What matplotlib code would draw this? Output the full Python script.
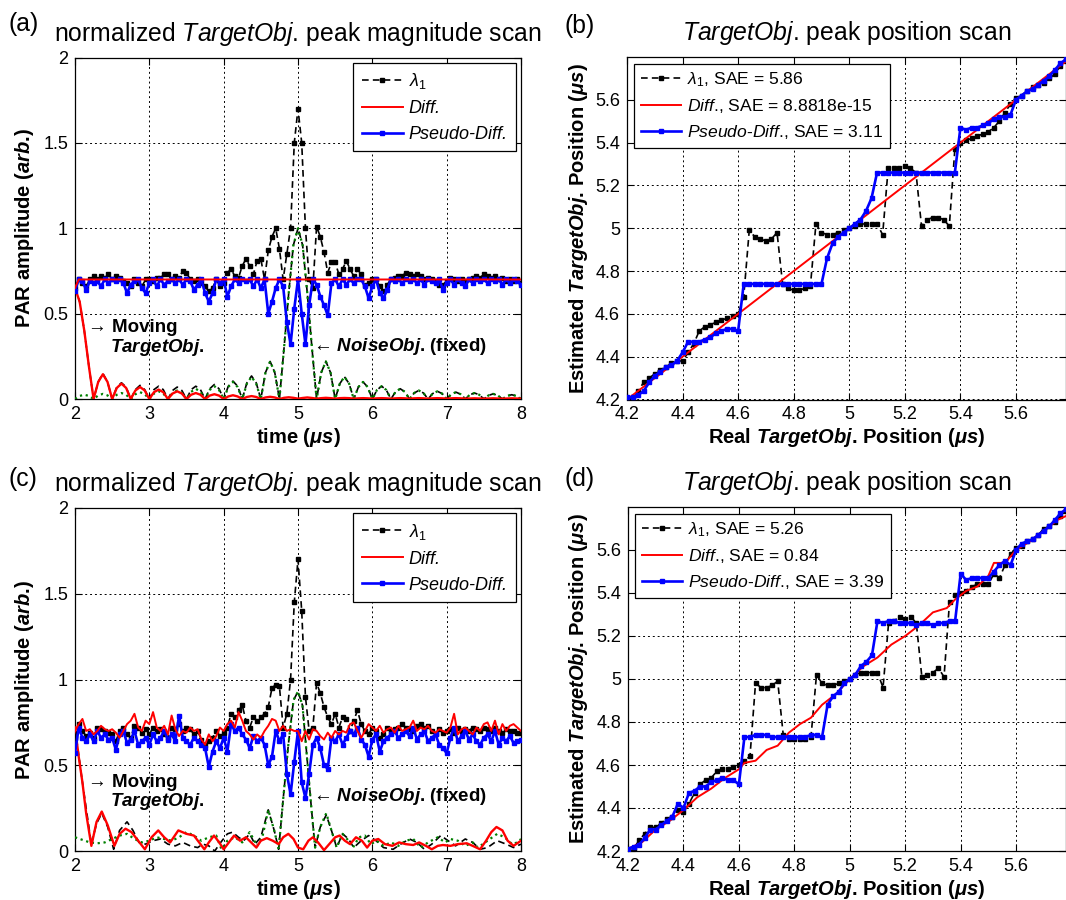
import numpy as np
import matplotlib
matplotlib.use('Agg')
import matplotlib.pyplot as plt

plt.rcParams['font.family'] = ['Liberation Sans', 'DejaVu Sans']
plt.rcParams['mathtext.fontset'] = 'custom'
plt.rcParams['mathtext.rm'] = 'Liberation Sans'
plt.rcParams['mathtext.it'] = 'Liberation Sans:italic'
plt.rcParams['mathtext.bf'] = 'Liberation Sans:bold'
plt.rcParams['mathtext.bfit'] = 'Liberation Sans:bold:italic'

# ---------------- data: magnitude scans (a), (c) ----------------
t_mag = np.linspace(2.0, 8.0, 121)      # 0.05 us steps
t_lobe = np.linspace(2.0, 8.0, 97)      # 0.0625 us steps

lam1_a = [
    0.65, 0.70, 0.68, 0.66, 0.70, 0.72, 0.70, 0.72, 0.71, 0.73,
    0.70, 0.72, 0.71, 0.69, 0.68, 0.66, 0.70, 0.68, 0.66, 0.70,
    0.70, 0.69, 0.71, 0.71, 0.73, 0.73, 0.70, 0.72, 0.71, 0.75,
    0.74, 0.70, 0.69, 0.70, 0.68, 0.66, 0.63, 0.65, 0.70, 0.66,
    0.68, 0.74, 0.76, 0.72, 0.71, 0.78, 0.82, 0.78, 0.73, 0.81,
    0.82, 0.70, 0.87, 0.95, 1.00, 0.88, 0.70, 0.85, 1.00, 1.50,
    1.70, 1.50, 1.00, 0.70, 0.65, 1.01, 0.95, 0.86, 0.74, 0.80,
    0.80, 0.73, 0.76, 0.81, 0.76, 0.72, 0.76, 0.73, 0.67, 0.68,
    0.70, 0.70, 0.66, 0.63, 0.67, 0.70, 0.71, 0.72, 0.72, 0.74,
    0.73, 0.72, 0.73, 0.72, 0.70, 0.71, 0.70, 0.69, 0.67, 0.67,
    0.69, 0.71, 0.70, 0.69, 0.70, 0.69, 0.70, 0.71, 0.72, 0.71,
    0.73, 0.72, 0.71, 0.72, 0.70, 0.71, 0.69, 0.70, 0.69, 0.70,
    0.68]

pseudo_a = [
    0.63, 0.70, 0.69, 0.64, 0.69, 0.68, 0.69, 0.66, 0.70, 0.68,
    0.70, 0.69, 0.70, 0.68, 0.62, 0.67, 0.69, 0.70, 0.65, 0.62,
    0.68, 0.70, 0.66, 0.70, 0.67, 0.69, 0.70, 0.68, 0.70, 0.67,
    0.70, 0.69, 0.64, 0.67, 0.70, 0.62, 0.57, 0.62, 0.70, 0.68,
    0.70, 0.60, 0.66, 0.70, 0.68, 0.70, 0.69, 0.70, 0.66, 0.70,
    0.65, 0.70, 0.50, 0.57, 0.65, 0.70, 0.66, 0.45, 0.32, 0.53,
    0.70, 0.50, 0.32, 0.55, 0.70, 0.67, 0.60, 0.55, 0.49, 0.68,
    0.70, 0.66, 0.70, 0.67, 0.70, 0.68, 0.70, 0.70, 0.66, 0.59,
    0.66, 0.70, 0.62, 0.59, 0.64, 0.70, 0.69, 0.70, 0.68, 0.70,
    0.69, 0.70, 0.68, 0.70, 0.67, 0.70, 0.69, 0.68, 0.70, 0.64,
    0.68, 0.70, 0.67, 0.70, 0.68, 0.66, 0.70, 0.68, 0.70, 0.69,
    0.70, 0.68, 0.70, 0.69, 0.70, 0.67, 0.70, 0.68, 0.70, 0.69,
    0.67]

diff_a_t = [2.0, 2.05, 8.0]
diff_a = [0.65, 0.70, 0.70]

moving_a = [
    0.65, 0.57, 0.40, 0.19,
    0.0, 0.10, 0.145, 0.10,
    0.0, 0.065, 0.09, 0.065,
    0.0, 0.05, 0.07, 0.05,
    0.0, 0.04, 0.055, 0.04,
    0.0, 0.032, 0.045, 0.032,
    0.0, 0.025, 0.035, 0.025,
    0.0, 0.02, 0.028, 0.02,
    0.0, 0.015, 0.022, 0.015,
    0.0, 0.012, 0.017, 0.012,
    0.0, 0.009, 0.013, 0.009,
    0.0, 0.007, 0.010, 0.007,
    0.002, 0.006, 0.009, 0.006,
    0.002, 0.005, 0.007, 0.005,
    0.002, 0.005, 0.006, 0.005,
    0.002, 0.004, 0.005, 0.004,
    0.002, 0.004, 0.005, 0.004,
    0.002, 0.004, 0.005, 0.004,
    0.002, 0.004, 0.005, 0.004,
    0.002, 0.004, 0.005, 0.004,
    0.002, 0.004, 0.005, 0.004,
    0.002, 0.003, 0.004, 0.003,
    0.002, 0.003, 0.004, 0.003,
    0.002, 0.003, 0.004, 0.003,
    0.002]

noise_a = [
    0.0, 0.018, 0.025, 0.018,
    0.0, 0.021, 0.03, 0.021,
    0.0, 0.025, 0.035, 0.025,
    0.0, 0.028, 0.04, 0.028,
    0.0, 0.032, 0.045, 0.032,
    0.0, 0.035, 0.05, 0.035,
    0.0, 0.042, 0.06, 0.042,
    0.0, 0.053, 0.075, 0.053,
    0.0, 0.07, 0.10, 0.07,
    0.0, 0.09, 0.13, 0.09,
    0.0, 0.155, 0.22, 0.155,
    0.0, 0.30, 0.62, 0.90, 1.00, 0.90, 0.62, 0.30,
    0.0, 0.155, 0.22, 0.155,
    0.0, 0.09, 0.13, 0.09,
    0.0, 0.07, 0.10, 0.07,
    0.0, 0.053, 0.075, 0.053,
    0.0, 0.042, 0.06, 0.042,
    0.0, 0.035, 0.05, 0.035,
    0.0, 0.032, 0.045, 0.032,
    0.0, 0.028, 0.04, 0.028,
    0.0, 0.025, 0.035, 0.025,
    0.0, 0.021, 0.03, 0.021,
    0.0, 0.018, 0.025, 0.018,
    0.0]

total_a = [
    0.65, 0.57, 0.40, 0.19,
    0.0, 0.10, 0.15, 0.10,
    0.0, 0.07, 0.095, 0.07,
    0.0, 0.055, 0.08, 0.055,
    0.0, 0.055, 0.075, 0.055,
    0.0, 0.05, 0.07, 0.05,
    0.0, 0.055, 0.075, 0.055,
    0.0, 0.06, 0.085, 0.06,
    0.0, 0.075, 0.105, 0.075,
    0.0, 0.095, 0.135, 0.095,
    0.0, 0.155, 0.22, 0.155,
    0.0, 0.30, 0.62, 0.90, 1.00, 0.90, 0.62, 0.30,
    0.0, 0.155, 0.22, 0.155,
    0.0, 0.09, 0.13, 0.09,
    0.0, 0.07, 0.10, 0.07,
    0.0, 0.053, 0.075, 0.053,
    0.0, 0.042, 0.06, 0.042,
    0.0, 0.035, 0.05, 0.035,
    0.0, 0.032, 0.045, 0.032,
    0.0, 0.028, 0.04, 0.028,
    0.0, 0.025, 0.035, 0.025,
    0.0, 0.021, 0.03, 0.021,
    0.0, 0.018, 0.025, 0.018,
    0.0]

lam1_c = [
    0.66, 0.74, 0.70, 0.67, 0.69, 0.66, 0.72, 0.71, 0.70, 0.69,
    0.68, 0.64, 0.70, 0.72, 0.68, 0.66, 0.73, 0.72, 0.69, 0.71,
    0.68, 0.72, 0.70, 0.71, 0.68, 0.66, 0.72, 0.71, 0.74, 0.70,
    0.72, 0.71, 0.68, 0.70, 0.65, 0.62, 0.64, 0.66, 0.70, 0.67,
    0.69, 0.72, 0.80, 0.78, 0.82, 0.85, 0.76, 0.72, 0.78, 0.76,
    0.78, 0.80, 0.84, 0.95, 0.97, 0.96, 0.72, 0.80, 1.00, 1.45,
    1.70, 1.40, 0.90, 0.70, 0.72, 0.98, 0.92, 0.84, 0.78, 0.74,
    0.80, 0.72, 0.78, 0.77, 0.70, 0.76, 0.82, 0.74, 0.70, 0.68,
    0.72, 0.70, 0.66, 0.68, 0.72, 0.70, 0.71, 0.72, 0.74, 0.72,
    0.71, 0.70, 0.73, 0.74, 0.72, 0.73, 0.70, 0.68, 0.71, 0.69,
    0.70, 0.71, 0.69, 0.72, 0.70, 0.71, 0.70, 0.72, 0.71, 0.70,
    0.72, 0.71, 0.70, 0.72, 0.70, 0.69, 0.71, 0.70, 0.70, 0.69,
    0.69]

diff_c = [
    0.70, 0.74, 0.77, 0.70, 0.71, 0.68, 0.70, 0.73, 0.71, 0.70,
    0.71, 0.69, 0.66, 0.70, 0.74, 0.76, 0.80, 0.72, 0.70, 0.76,
    0.74, 0.81, 0.72, 0.70, 0.73, 0.68, 0.79, 0.71, 0.67, 0.70,
    0.69, 0.72, 0.70, 0.71, 0.65, 0.62, 0.68, 0.64, 0.67, 0.72,
    0.70, 0.74, 0.76, 0.72, 0.81, 0.76, 0.70, 0.68, 0.65, 0.68,
    0.66, 0.70, 0.73, 0.77, 0.76, 0.70, 0.73, 0.70, 0.71, 0.70,
    0.70, 0.64, 0.70, 0.65, 0.71, 0.70, 0.67, 0.65, 0.69, 0.66,
    0.70, 0.68, 0.70, 0.69, 0.74, 0.75, 0.70, 0.66, 0.70, 0.74,
    0.72, 0.70, 0.73, 0.69, 0.71, 0.72, 0.69, 0.73, 0.70, 0.71,
    0.72, 0.76, 0.70, 0.72, 0.71, 0.73, 0.70, 0.69, 0.71, 0.70,
    0.69, 0.72, 0.80, 0.68, 0.71, 0.72, 0.70, 0.68, 0.72, 0.70,
    0.74, 0.75, 0.70, 0.76, 0.68, 0.74, 0.70, 0.73, 0.74, 0.72,
    0.70]

pseudo_c = [
    0.57, 0.72, 0.66, 0.64, 0.68, 0.64, 0.70, 0.66, 0.68, 0.65,
    0.66, 0.59, 0.68, 0.70, 0.63, 0.65, 0.70, 0.62, 0.64, 0.66,
    0.62, 0.68, 0.64, 0.66, 0.70, 0.65, 0.68, 0.64, 0.79, 0.66,
    0.64, 0.62, 0.66, 0.64, 0.62, 0.60, 0.49, 0.58, 0.64, 0.60,
    0.66, 0.58, 0.74, 0.70, 0.72, 0.68, 0.65, 0.60, 0.67, 0.64,
    0.66, 0.62, 0.50, 0.55, 0.70, 0.64, 0.68, 0.45, 0.33, 0.52,
    0.70, 0.40, 0.31, 0.45, 0.62, 0.66, 0.60, 0.50, 0.48, 0.66,
    0.64, 0.68, 0.62, 0.66, 0.70, 0.68, 0.72, 0.65, 0.62, 0.55,
    0.65, 0.68, 0.58, 0.64, 0.66, 0.68, 0.70, 0.66, 0.68, 0.70,
    0.67, 0.72, 0.65, 0.68, 0.70, 0.64, 0.66, 0.68, 0.62, 0.60,
    0.57, 0.66, 0.72, 0.64, 0.67, 0.70, 0.65, 0.68, 0.64, 0.62,
    0.66, 0.68, 0.64, 0.70, 0.62, 0.66, 0.64, 0.67, 0.63, 0.64,
    0.65]

moving_c = [
    (2.0, 0.72), (2.05, 0.55), (2.1, 0.40), (2.15, 0.22), (2.22, 0.03),
    (2.29, 0.17), (2.36, 0.23), (2.44, 0.15), (2.53, 0.03), (2.6, 0.10),
    (2.68, 0.13), (2.76, 0.11), (2.85, 0.06), (2.94, 0.01), (3.03, 0.08),
    (3.12, 0.12), (3.2, 0.08), (3.28, 0.05), (3.39, 0.12), (3.5, 0.10),
    (3.6, 0.09), (3.67, 0.05), (3.74, 0.01), (3.8, 0.05), (3.87, 0.09),
    (3.94, 0.05), (4.0, 0.01), (4.07, 0.05), (4.14, 0.09), (4.22, 0.06),
    (4.3, 0.08), (4.37, 0.05), (4.44, 0.02), (4.5, 0.06), (4.58, 0.075),
    (4.66, 0.06), (4.74, 0.04), (4.8, 0.08), (4.87, 0.10), (4.94, 0.07),
    (5.0, 0.02), (5.07, 0.01), (5.14, 0.06), (5.2, 0.08), (5.27, 0.05),
    (5.35, 0.005), (5.42, 0.04), (5.5, 0.08), (5.56, 0.09), (5.63, 0.06),
    (5.7, 0.04), (5.78, 0.08), (5.86, 0.06), (5.93, 0.02), (6.0, 0.06),
    (6.08, 0.07), (6.17, 0.04), (6.27, 0.03), (6.36, 0.05), (6.45, 0.04),
    (6.55, 0.035), (6.63, 0.05), (6.72, 0.03), (6.8, 0.01), (6.88, 0.03),
    (6.95, 0.035), (7.05, 0.03), (7.15, 0.04), (7.27, 0.045), (7.35, 0.03),
    (7.45, 0.01), (7.53, 0.06), (7.6, 0.11), (7.67, 0.14), (7.75, 0.12),
    (7.82, 0.06), (7.9, 0.03), (8.0, 0.06)]

noise_c = [
    (2.0, 0.08), (2.1, 0.065), (2.2, 0.05), (2.3, 0.045), (2.4, 0.05),
    (2.5, 0.07), (2.6, 0.09), (2.7, 0.10), (2.8, 0.07), (2.9, 0.05),
    (3.0, 0.06), (3.1, 0.08), (3.2, 0.07), (3.3, 0.06), (3.4, 0.08),
    (3.5, 0.11), (3.6, 0.09), (3.7, 0.06), (3.8, 0.08), (3.9, 0.09),
    (3.97, 0.01), (4.05, 0.06), (4.15, 0.08), (4.25, 0.05), (4.35, 0.11),
    (4.45, 0.03), (4.52, 0.08), (4.6, 0.24), (4.68, 0.12), (4.74, 0.01),
    (4.8, 0.30), (4.87, 0.62), (4.94, 0.88), (5.0, 0.93), (5.06, 0.85),
    (5.12, 0.55), (5.18, 0.25), (5.23, 0.02), (5.3, 0.14), (5.38, 0.22),
    (5.45, 0.12), (5.52, 0.02), (5.6, 0.10), (5.68, 0.06), (5.74, 0.02),
    (5.82, 0.08), (5.9, 0.09), (5.98, 0.04), (6.06, 0.06), (6.15, 0.03),
    (6.25, 0.05), (6.35, 0.03), (6.45, 0.06), (6.55, 0.07), (6.65, 0.02),
    (6.75, 0.05), (6.88, 0.08), (6.98, 0.05), (7.05, 0.07), (7.15, 0.06),
    (7.25, 0.03), (7.35, 0.05), (7.42, 0.02), (7.55, 0.06), (7.68, 0.10),
    (7.78, 0.08), (7.88, 0.04), (7.95, 0.05), (8.0, 0.07)]

total_c = [
    (2.0, 0.72), (2.1, 0.40), (2.22, 0.04), (2.29, 0.16), (2.36, 0.22),
    (2.44, 0.14), (2.52, 0.01), (2.6, 0.12), (2.7, 0.17), (2.78, 0.12),
    (2.86, 0.05), (2.95, 0.04), (3.05, 0.06), (3.15, 0.07), (3.25, 0.04),
    (3.35, 0.03), (3.45, 0.05), (3.55, 0.03), (3.65, 0.02), (3.72, 0.04),
    (3.8, 0.03), (3.88, 0.0), (3.96, 0.05), (4.05, 0.10), (4.12, 0.11),
    (4.2, 0.08), (4.27, 0.06), (4.35, 0.10), (4.42, 0.04), (4.5, 0.08),
    (4.6, 0.24), (4.68, 0.12), (4.74, 0.01), (4.8, 0.30), (4.87, 0.62),
    (4.94, 0.88), (5.0, 0.93), (5.06, 0.85), (5.12, 0.55), (5.18, 0.25),
    (5.23, 0.02), (5.3, 0.14), (5.38, 0.21), (5.45, 0.12), (5.52, 0.02),
    (5.6, 0.10), (5.68, 0.07), (5.75, 0.02), (5.85, 0.06), (5.95, 0.09),
    (6.05, 0.06), (6.15, 0.02), (6.28, 0.01), (6.38, 0.04), (6.5, 0.07),
    (6.6, 0.05), (6.7, 0.01), (6.8, 0.04), (6.92, 0.09), (7.02, 0.06),
    (7.12, 0.03), (7.25, 0.07), (7.35, 0.05), (7.45, 0.01), (7.55, 0.02),
    (7.68, 0.06), (7.8, 0.04), (7.9, 0.02), (8.0, 0.04)]

# ---------------- data: position scans (b), (d) ----------------
t_pos = np.linspace(4.2, 5.8, 81)       # 0.02 us steps

lam1_b = [
    4.19, 4.21, 4.24, 4.28, 4.30, 4.32, 4.34, 4.35, 4.37, 4.38,
    4.38, 4.42, 4.46, 4.52, 4.54, 4.55, 4.56, 4.57, 4.58, 4.59,
    4.60, 4.68, 4.99, 4.96, 4.95, 4.94, 4.95, 4.98, 4.74, 4.72,
    4.71, 4.71, 4.72, 4.73, 5.02, 4.98, 4.97, 4.97, 4.98, 4.99,
    5.00, 5.01, 5.02, 5.02, 5.02, 5.02, 4.97, 5.28, 5.28, 5.28,
    5.29, 5.28, 5.26, 5.01, 5.04, 5.05, 5.05, 5.04, 5.01, 5.37,
    5.40, 5.41, 5.42, 5.43, 5.44, 5.45, 5.47, 5.50, 5.54, 5.58,
    5.61, 5.62, 5.64, 5.66, 5.67, 5.68, 5.70, 5.72, 5.76, 5.78,
    5.80]

pseudo_b = [
    4.21, 4.21, 4.22, 4.24, 4.28, 4.31, 4.33, 4.35, 4.36, 4.38,
    4.42, 4.47, 4.47, 4.47, 4.48, 4.49, 4.51, 4.52, 4.53, 4.53,
    4.52, 4.74, 4.74, 4.74, 4.74, 4.74, 4.74, 4.74, 4.74, 4.74,
    4.74, 4.74, 4.74, 4.74, 4.74, 4.74, 4.86, 4.93, 4.96, 4.98,
    5.00, 5.02, 5.04, 5.08, 5.14, 5.26, 5.26, 5.26, 5.26, 5.26,
    5.26, 5.26, 5.26, 5.26, 5.26, 5.26, 5.26, 5.26, 5.26, 5.26,
    5.47, 5.46, 5.47, 5.47, 5.48, 5.49, 5.51, 5.52, 5.52, 5.53,
    5.60, 5.62, 5.64, 5.65, 5.67, 5.69, 5.71, 5.74, 5.77, 5.79,
    5.80]

diff_b_t = [4.2, 5.8]
diff_b = [4.2, 5.8]

lam1_d = [
    4.19, 4.21, 4.25, 4.28, 4.31, 4.31, 4.33, 4.35, 4.36, 4.39,
    4.38, 4.42, 4.47, 4.51, 4.53, 4.54, 4.57, 4.58, 4.58, 4.59,
    4.60, 4.62, 4.64, 4.98, 4.96, 4.96, 4.97, 4.99, 4.74, 4.72,
    4.72, 4.72, 4.72, 4.73, 5.02, 4.98, 4.97, 4.97, 4.98, 4.99,
    5.00, 5.02, 5.03, 5.03, 5.03, 5.03, 4.96, 5.26, 5.27, 5.29,
    5.28, 5.29, 5.26, 5.01, 5.02, 5.03, 5.05, 5.01, 5.36, 5.39,
    5.40, 5.41, 5.43, 5.44, 5.44, 5.44, 5.49, 5.47, 5.53, 5.58,
    5.61, 5.62, 5.64, 5.65, 5.67, 5.70, 5.71, 5.73, 5.76, 5.78,
    5.80]

pseudo_d = [
    4.21, 4.22, 4.23, 4.26, 4.30, 4.30, 4.32, 4.34, 4.36, 4.42,
    4.40, 4.47, 4.48, 4.50, 4.50, 4.52, 4.53, 4.54, 4.53, 4.53,
    4.51, 4.73, 4.73, 4.74, 4.74, 4.74, 4.73, 4.73, 4.73, 4.73,
    4.73, 4.73, 4.73, 4.74, 4.74, 4.73, 4.88, 4.92, 4.94, 4.98,
    5.00, 5.02, 5.06, 5.08, 5.11, 5.27, 5.26, 5.27, 5.27, 5.26,
    5.26, 5.26, 5.25, 5.26, 5.26, 5.25, 5.26, 5.26, 5.27, 5.27,
    5.49, 5.46, 5.47, 5.47, 5.47, 5.47, 5.50, 5.53, 5.55, 5.53,
    5.60, 5.63, 5.64, 5.65, 5.67, 5.69, 5.71, 5.74, 5.77, 5.79,
    5.80]

diff_d = [
    (4.2, 4.21), (4.25, 4.24), (4.3, 4.30), (4.35, 4.34), (4.4, 4.39),
    (4.45, 4.45), (4.5, 4.49), (4.55, 4.54), (4.6, 4.58), (4.62, 4.61),
    (4.66, 4.62), (4.7, 4.67), (4.74, 4.69), (4.78, 4.75), (4.82, 4.79),
    (4.86, 4.82), (4.9, 4.88), (4.95, 4.93), (5.0, 5.0), (5.05, 5.06),
    (5.1, 5.10), (5.15, 5.16), (5.2, 5.20), (5.25, 5.25), (5.3, 5.31),
    (5.35, 5.33), (5.38, 5.37), (5.42, 5.41), (5.46, 5.43), (5.5, 5.48),
    (5.52, 5.54), (5.56, 5.54), (5.6, 5.60), (5.65, 5.64), (5.7, 5.69),
    (5.75, 5.74), (5.8, 5.77)]

mag_xticks = [2, 3, 4, 5, 6, 7, 8]
mag_yticks = [0, 0.5, 1, 1.5, 2]
mag_yticklabels = ['0', '0.5', '1', '1.5', '2']
pos_ticks = [4.2, 4.4, 4.6, 4.8, 5.0, 5.2, 5.4, 5.6]
pos_ticklabels = ['4.2', '4.4', '4.6', '4.8', '5', '5.2', '5.4', '5.6']
sae_b = ['5.86', '8.8818e-15', '3.11']
sae_d = ['5.26', '0.84', '3.39']

# period kept outside mathtext so no extra punctuation space is added
TOBJ = r'$\mathit{TargetObj}$.'
TOBJ_B = r'$\mathbfit{TargetObj}$.'
MU = r'$\mathbfit{μs}$'

BLK_DASH = (0, (4, 2.5))
LABEL_FS = 14.5
TITLE_FS = 17.8


def style(ax):
    ax.grid(True, color='k', linestyle=(0, (2, 3)), linewidth=0.7)
    ax.set_axisbelow(True)
    ax.tick_params(direction='in', top=True, right=True, labelsize=13,
                   length=5, width=0.8, pad=5)
    for s in ax.spines.values():
        s.set_linewidth(0.9)


def magnitude_panel(ax, lam1, pseudo, diff_t, diff, moving_t, moving,
                    noise_t, noise, total_t, total, ytxt):
    ax.plot(total_t, total, color='k', linestyle=BLK_DASH, lw=1.2, zorder=2)
    ax.plot(noise_t, noise, color='#008000', linestyle=':', lw=1.6, zorder=3)
    ax.plot(moving_t, moving, color='r', lw=1.7, zorder=4)
    ax.plot(t_mag, lam1, color='k', linestyle=BLK_DASH, lw=1.2, marker='s',
            ms=3, mfc='k', mec='k', zorder=5, label=r'$\lambda_1$')
    ax.plot(diff_t, diff, color='r', lw=1.4, zorder=7, label='Diff.')
    ax.plot(t_mag, pseudo, color='b', lw=1.9, marker='s', ms=3.4, zorder=6,
            label='Pseudo-Diff.')
    ax.set_xlim(2, 8)
    ax.set_ylim(0, 2)
    ax.set_xticks(mag_xticks)
    ax.set_yticks(mag_yticks, mag_yticklabels)
    style(ax)
    ax.set_title('normalized ' + TOBJ + ' peak magnitude scan', fontsize=TITLE_FS, pad=12)
    ax.set_xlabel('time (' + MU + ')', fontsize=LABEL_FS, fontweight='bold', labelpad=2)
    ax.set_ylabel('PAR amplitude (' + r'$\mathbfit{arb}$.' + ')', fontsize=LABEL_FS,
                  fontweight='bold', labelpad=5)
    leg = ax.legend(loc='upper right', bbox_to_anchor=(0.988, 0.984),
                    borderaxespad=0, fancybox=False, framealpha=1,
                    edgecolor='k', numpoints=1, handlelength=2.3,
                    handletextpad=0.3, labelspacing=0.5, borderpad=0.45,
                    prop={'style': 'italic', 'size': 13})
    leg.get_frame().set_linewidth(0.9)
    ax.text(2.17, ytxt[0], '→ Moving', fontsize=13.5, fontweight='bold',
            va='center', ha='left', zorder=8)
    ax.text(2.47, ytxt[1], TOBJ_B, fontsize=13.5, fontweight='bold',
            va='center', ha='left', zorder=8)
    ax.text(5.2, ytxt[2], '← ' + r'$\mathbfit{NoiseObj}$.' + ' (fixed)',
            fontsize=13.5, fontweight='bold', va='center', ha='left', zorder=8)


def position_panel(ax, lam1, pseudo, diff_t, diff, sae):
    ax.plot(t_pos, lam1, color='k', linestyle=BLK_DASH, lw=1.2, marker='s',
            ms=3, mfc='k', mec='k', zorder=3,
            label=r'$\lambda_1$, SAE = ' + sae[0])
    ax.plot(diff_t, diff, color='r', lw=1.4, zorder=4,
            label=r'$\mathit{Diff}$., SAE = ' + sae[1])
    ax.plot(t_pos, pseudo, color='b', lw=1.9, marker='s', ms=3.4, zorder=5,
            label=r'$\mathit{Pseudo}$-$\mathit{Diff}$., SAE = ' + sae[2])
    ax.set_xlim(4.2, 5.78)
    ax.set_ylim(4.2, 5.8)
    ax.set_xticks(pos_ticks, pos_ticklabels)
    ax.set_yticks(pos_ticks, pos_ticklabels)
    style(ax)
    ax.set_title(TOBJ + ' peak position scan', fontsize=TITLE_FS, pad=12)
    ax.set_xlabel('Real ' + TOBJ_B + ' Position (' + MU + ')', fontsize=LABEL_FS,
                  fontweight='bold', labelpad=2)
    ax.set_ylabel('Estimated ' + TOBJ_B + ' Position (' + MU + ')', fontsize=LABEL_FS,
                  fontweight='bold', labelpad=4)
    leg = ax.legend(loc='upper left', bbox_to_anchor=(0.016, 0.981),
                    borderaxespad=0, fancybox=False, framealpha=1,
                    edgecolor='k', numpoints=1, handlelength=2.3,
                    handletextpad=0.3, labelspacing=0.45, borderpad=0.4,
                    prop={'size': 12.6})
    leg.get_frame().set_linewidth(0.9)


fig = plt.figure(figsize=(10.66, 9), dpi=100)
W, H = 1066.0, 900.0
ax_a = fig.add_axes([75 / W, 1 - 399 / H, 446 / W, 341.5 / H])
ax_b = fig.add_axes([627 / W, 1 - 399.5 / H, 439 / W, 342.5 / H])
ax_c = fig.add_axes([75 / W, 1 - 851 / H, 446 / W, 343 / H])
ax_d = fig.add_axes([628 / W, 1 - 851 / H, 438 / W, 344 / H])

mc = np.array(moving_c).T
nc = np.array(noise_c).T
tc = np.array(total_c).T
dd = np.array(diff_d).T

magnitude_panel(ax_a, lam1_a, pseudo_a, diff_a_t, diff_a, t_lobe, moving_a,
                t_lobe, noise_a, t_lobe, total_a, (0.42, 0.30, 0.31))
magnitude_panel(ax_c, lam1_c, pseudo_c, t_mag, diff_c, mc[0], mc[1],
                nc[0], nc[1], tc[0], tc[1], (0.40, 0.29, 0.32))
position_panel(ax_b, lam1_b, pseudo_b, diff_b_t, diff_b, sae_b)
position_panel(ax_d, lam1_d, pseudo_d, dd[0], dd[1], sae_d)

for lbl, x, y in [('(a)', 8, 24), ('(b)', 565, 26), ('(c)', 8, 479), ('(d)', 565, 479)]:
    fig.text(x / W, 1 - y / H, lbl, fontsize=TITLE_FS, va='center', ha='left')

fig.savefig('out.png', dpi=100)
